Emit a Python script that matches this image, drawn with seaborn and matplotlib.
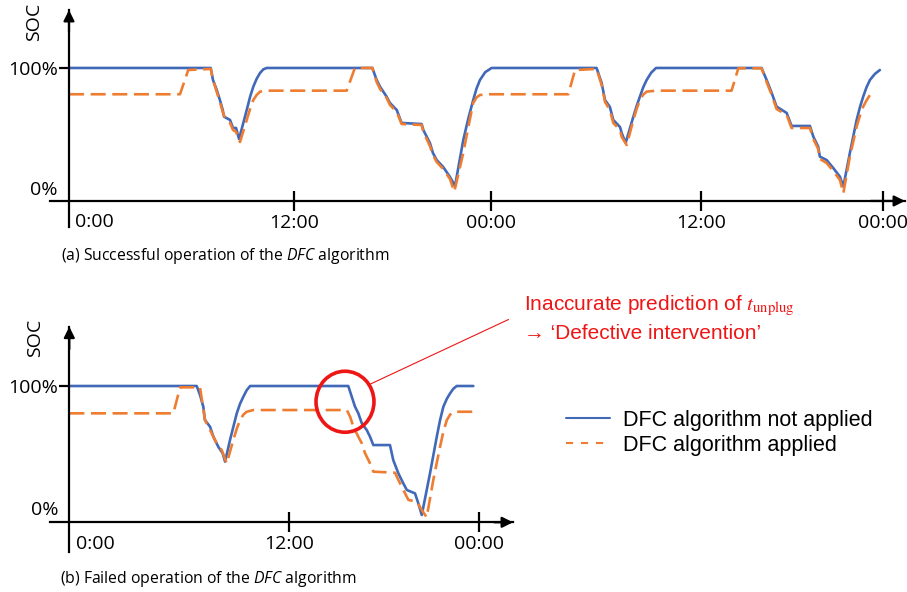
import numpy as np
import pandas as pd
import matplotlib
matplotlib.use("Agg")
import matplotlib.pyplot as plt
import seaborn as sns
from matplotlib.lines import Line2D
from matplotlib.patches import Ellipse

# ---------------- data (time in hours, SOC in %) ----------------
SERIES = ["DFC algorithm not applied", "DFC algorithm applied"]

# (a) successful operation
a_time_blue = [0, 7.56, 7.68, 7.88, 8.05, 8.20, 8.27, 8.59, 8.75, 8.91, 9.07,
               9.48, 9.66, 9.83, 10.01, 10.19, 10.36, 10.54,
               16.18, 16.41, 16.59, 16.94, 17.12, 17.48, 17.74, 18.81, 18.90, 19.25,
               19.41, 19.61, 19.96, 20.32, 20.59,
               21.03, 21.30, 21.56, 21.74, 21.92, 22.20, 22.54,
               28.14, 28.41, 28.59, 28.85, 29.03, 29.39, 29.48, 29.69,
               30.10, 30.28, 30.45, 30.63, 30.81, 31.05, 31.31,
               36.94, 37.21, 37.48, 37.74, 38.28, 38.54, 39.52, 39.70, 39.96, 40.05,
               40.41, 40.76, 41.12, 41.30,
               41.65, 42.01, 42.19, 42.36, 42.54, 42.72, 42.98, 43.25]
a_soc_blue = [100, 100, 90, 81.7, 73.3, 65, 59.4, 56.7, 50, 50, 40.8,
              65, 76, 84.4, 91, 95.8, 98.8, 100,
              100, 90, 84.4, 76.1, 70.8, 65, 54.2, 53.3, 48.3, 37.5,
              29.2, 23.3, 17.5, 9.2, 1.7,
              40, 58, 73.3, 83, 90, 96.5, 100,
              100, 87.5, 73.3, 67.5, 56.7, 50.8, 45.8, 37.5,
              59.4, 68.5, 76.1, 84, 90, 96, 100,
              100, 90, 79.2, 67.8, 62.5, 51.7, 51.7, 42.8, 34.4, 26.1,
              23.3, 16.7, 9.4, 1.1,
              29.2, 56.7, 67.5, 76.1, 84, 90, 95, 98.3]

a_time_orange = [0, 5.92, 6.36, 7.56,
                 7.68, 7.88, 8.05, 8.20, 8.32, 8.59, 8.75, 8.91, 9.12,
                 9.48, 9.66, 9.83, 10.01, 10.19, 10.54,
                 14.81, 15.25, 16.18,
                 16.41, 16.59, 16.94, 17.12, 17.48, 17.74, 18.81, 18.90, 19.25, 19.41,
                 19.61, 19.96, 20.32, 20.55,
                 21.03, 21.30, 21.56, 21.74, 21.92, 22.45,
                 26.63, 26.99, 28.14,
                 28.41, 28.59, 28.85, 29.03, 29.39, 29.48, 29.75,
                 30.10, 30.28, 30.45, 30.63, 30.81, 31.34,
                 35.34, 35.70, 36.94,
                 37.21, 37.48, 37.74, 38.28, 38.54, 39.52, 39.70, 39.96, 40.05, 40.41,
                 40.76, 41.12, 41.30,
                 41.65, 42.01, 42.19, 42.36, 42.54, 42.72]
a_soc_orange = [78.1, 78.1, 98.3, 99.2,
                90, 80, 71.7, 63.3, 58.3, 54.2, 48.3, 46.7, 38.3,
                56.7, 66, 73.3, 77.5, 80.3, 81.1,
                81.1, 100, 100,
                88.3, 82.5, 75, 69.2, 63.3, 53.3, 52.5, 46.7, 35, 27.5,
                21.7, 15.8, 7.5, -3.1,
                29.2, 51, 70.8, 75.5, 77.5, 78.1,
                78.1, 98.3, 99.2,
                85.8, 71.7, 65, 54.2, 48.3, 42.5, 35.8,
                56.7, 66, 73.3, 77.8, 80.3, 81.1,
                81.1, 99.7, 99.7,
                88.3, 77.5, 65.8, 60.8, 50, 50, 40.8, 32.5, 24.2, 20.8,
                14.2, 6.7, -4.4,
                26.1, 51.1, 60.5, 67.8, 73, 77.5]

a_tick_hours = [12.0, 22.5, 33.7, 43.4]
a_tick_labels = ["12:00", "00:00", "12:00", "00:00"]

# (b) failed operation
b_time_blue = [0, 6.97, 7.15, 7.33, 7.42, 7.70, 7.88, 8.15, 8.39, 8.52,
               8.79, 9.16, 9.34, 9.52, 9.70, 9.89,
               15.26, 15.45, 15.63, 15.81, 16.00, 16.27, 16.45, 16.63, 17.54, 17.72,
               18.00, 18.27, 18.46, 18.91, 19.09, 19.28,
               19.73, 20.10, 20.28, 20.46, 20.65, 20.83, 21.01, 21.19, 22.10]
b_soc_blue = [100, 100, 92.6, 83, 72.1, 66.6, 58.4, 50.2, 44.8, 38,
              55.7, 77.6, 85.5, 91.2, 96.5, 100,
              100, 91.2, 83, 77.6, 69.4, 63.9, 58.4, 51.6, 51.6, 39.3,
              28.4, 20.2, 14.8, 12, 3.9, -5.7,
              28.4, 58.4, 72, 83, 89.5, 94, 97.8, 100, 100]

b_time_orange = [0, 5.69, 6.06, 7.15, 7.42, 7.70, 8.06, 8.34, 8.61,
                 8.97, 9.16, 9.34, 9.52, 9.70, 10.07,
                 15.18, 15.36, 15.54, 15.81, 16.00, 16.18, 16.45, 16.63, 17.82, 18.00,
                 18.27, 18.55, 19.00, 19.28, 19.55,
                 19.91, 20.28, 20.46, 20.65, 20.83, 21.01, 22.10]
b_soc_orange = [77.6, 77.6, 98.9, 98.9, 72.1, 63.9, 53, 47.5, 36.6,
                55.7, 65, 72.1, 76.5, 78.9, 80.3,
                80.3, 74.8, 66.6, 58.4, 53, 44.8, 36.6, 29.8, 28.9, 23,
                14.8, 6.6, 5.2, -1.6, -7.6,
                23, 50.2, 62.5, 72.1, 76.5, 78.9, 78.9]

b_tick_hours = [12.0, 22.4]
b_tick_labels = ["12:00", "00:00"]

# failure marker (annotation) in panel (b)
fail_time, fail_soc = 15.08, 87.1

# ---------------- style ----------------
BLUE = "#4169B8"
ORANGE = "#EF7D31"
RED = "#EE1515"

sns.set_theme(style="ticks")
plt.rcParams["font.family"] = ["Open Sans", "DejaVu Sans"]
plt.rcParams["mathtext.fontset"] = "custom"
plt.rcParams["mathtext.rm"] = "Open Sans"
plt.rcParams["mathtext.it"] = "Open Sans:italic"
for key in ["text.color", "axes.labelcolor", "xtick.color", "ytick.color",
            "axes.edgecolor"]:
    plt.rcParams[key] = "black"

W, H = 907, 592
fig = plt.figure(figsize=(W / 100, H / 100), dpi=100)
fig.patch.set_facecolor("white")


def px_axes(left, top, right, bottom):
    return fig.add_axes([left / W, 1 - bottom / H, (right - left) / W, (bottom - top) / H])


def draw_lines(ax, tb, sb, to, so):
    df = pd.concat([
        pd.DataFrame({"time": tb, "soc": sb, "series": SERIES[0]}),
        pd.DataFrame({"time": to, "soc": so, "series": SERIES[1]}),
    ], ignore_index=True)
    sns.lineplot(data=df, x="time", y="soc", hue="series", style="series",
                 hue_order=SERIES, style_order=SERIES, palette=[BLUE, ORANGE],
                 dashes={SERIES[0]: "", SERIES[1]: (5.7, 2.5)},
                 sort=False, estimator=None, legend=False, ax=ax, linewidth=1.9)


def setup_panel(ax, xlim, ylim, x_axis_soc, ticks, labels):
    ax.set_xlim(*xlim)
    ax.set_ylim(*ylim)
    ax.set_xlabel("")
    ax.set_ylabel("")
    ax.patch.set_alpha(0)
    for s in ["top", "right"]:
        ax.spines[s].set_visible(False)
    ax.spines["left"].set_position(("data", 0))
    ax.spines["bottom"].set_position(("data", x_axis_soc))
    for s in ["left", "bottom"]:
        ax.spines[s].set_linewidth(1.6)
        ax.spines[s].set_color("black")
    ax.set_xticks(ticks)
    ax.set_xticklabels(labels)
    ax.tick_params(axis="x", direction="inout", length=15, width=1.6, pad=2,
                   labelsize=14, color="black", labelcolor="black")
    ax.set_yticks([100])
    ax.set_yticklabels(["100%"])
    ax.set_yticks([0], minor=True)
    ax.set_yticklabels(["0%"], minor=True)
    ax.tick_params(axis="y", which="major", direction="out", length=7, width=1.6,
                   pad=1, labelsize=14, color="black", labelcolor="black")
    ax.tick_params(axis="y", which="minor", length=0, pad=8, labelsize=14,
                   labelcolor="black")
    ax.annotate("0:00", xy=(0, x_axis_soc), xytext=(4.5, -9), textcoords="offset points",
                ha="left", va="top", fontsize=14, color="black")
    arrow = dict(arrowstyle="-|>", color="black", lw=1.6, shrinkA=0, shrinkB=0,
                 mutation_scale=16)
    ax.annotate("", xy=(1, x_axis_soc), xycoords=("axes fraction", "data"),
                xytext=(0.96, x_axis_soc), textcoords=("axes fraction", "data"),
                arrowprops=arrow)
    ax.annotate("", xy=(0, 1), xycoords=("data", "axes fraction"),
                xytext=(0, 0.9), textcoords=("data", "axes fraction"),
                arrowprops=arrow)


# ---------------- panel (a) ----------------
ax1 = px_axes(50, 10, 905, 227)
draw_lines(ax1, a_time_blue, a_soc_blue, a_time_orange, a_soc_orange)
setup_panel(ax1, (-1.013, 44.59), (-32.5, 148.3), -10.8, a_tick_hours, a_tick_labels)

# ---------------- panel (b) ----------------
ax2 = px_axes(50, 326.7, 513, 551.7)
draw_lines(ax2, b_time_blue, b_soc_blue, b_time_orange, b_soc_orange)
setup_panel(ax2, (-1.056, 24.27), (-35.8, 148.6), -11.7, b_tick_hours, b_tick_labels)

# failure highlight
ell_w, ell_h = 3.17, 50
ax2.add_patch(Ellipse((fail_time, fail_soc), ell_w, ell_h, fill=False,
                      edgecolor=RED, lw=2.6, clip_on=False, zorder=5))
theta = np.deg2rad(34)
start = (fail_time + ell_w / 2 * np.cos(theta), fail_soc + ell_h / 2 * np.sin(theta))
ax2.annotate("", xy=start, xytext=(508.5 / W, 1 - 319.5 / H), textcoords="figure fraction",
             arrowprops=dict(arrowstyle="-", color=RED, lw=0.8, shrinkA=0, shrinkB=0))

fig.text(524 / W, 1 - 310.7 / H, r"Inaccurate prediction of $t_{\mathrm{unplug}}$",
         color=RED, fontsize=15, family=["Liberation Sans", "DejaVu Sans"],
         math_fontfamily="stix", ha="left", va="baseline")
fig.text(524 / W, 1 - 339.3 / H, "\u2192 \u2018Defective intervention\u2019",
         color=RED, fontsize=15, family=["Liberation Sans", "DejaVu Sans"],
         ha="left", va="baseline")

# SOC labels
fig.text(34 / W, 1 - 22 / H, "SOC", rotation=90, ha="center", va="center", fontsize=14)
fig.text(35 / W, 1 - 338 / H, "SOC", rotation=90, ha="center", va="center", fontsize=14)

# captions
fig.text(61 / W, 1 - 256 / H, r"(a) Successful operation of the $\mathit{DFC}$ algorithm",
         ha="left", va="center", fontsize=11.3)
fig.text(60 / W, 1 - 579.3 / H, r"(b) Failed operation of the $\mathit{DFC}$ algorithm",
         ha="left", va="center", fontsize=11.3)

# legend
handles = [Line2D([], [], color=BLUE, lw=1.5),
           Line2D([], [], color=ORANGE, lw=1.5, dashes=(3.4, 3.8))]
fig.legend(handles=handles, labels=SERIES, loc="upper left",
           bbox_to_anchor=(566 / W, 1 - 410 / H), frameon=False,
           prop={"family": ["Liberation Sans", "DejaVu Sans"], "size": 15.5},
           handlelength=2.05, handletextpad=0.62, labelspacing=0.18,
           borderpad=0, borderaxespad=0, labelcolor="black")

fig.savefig("out.png", dpi=100, facecolor="white")
